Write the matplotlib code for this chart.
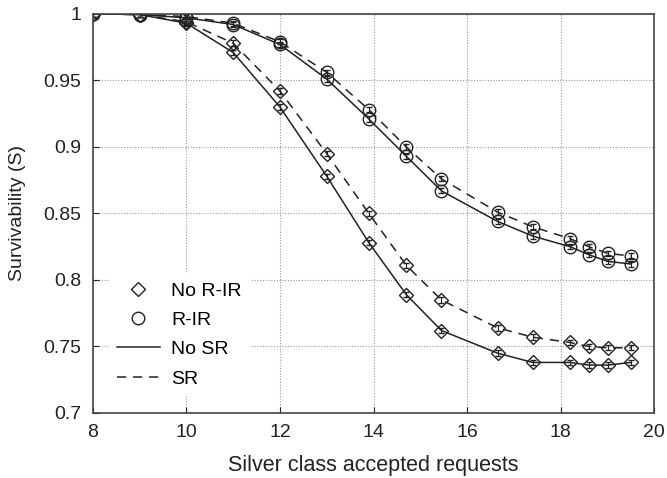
import numpy as np
import matplotlib.pyplot as plt
from matplotlib.lines import Line2D

plt.rcParams["font.family"] = ["Liberation Sans", "DejaVu Sans"]

requests = [8, 9, 10, 11, 12, 13, 13.9, 14.7, 15.45, 16.65, 17.4, 18.2, 18.6, 19, 19.5]

no_rir_no_sr = [1.0, 0.9995, 0.993, 0.971, 0.930, 0.878, 0.828, 0.789, 0.762,
                0.745, 0.738, 0.738, 0.736, 0.736, 0.738]
no_rir_sr = [1.0, 0.9995, 0.994, 0.978, 0.942, 0.895, 0.850, 0.811, 0.785,
             0.764, 0.757, 0.753, 0.750, 0.749, 0.749]
rir_no_sr = [1.0, 0.9995, 0.997, 0.992, 0.977, 0.951, 0.921, 0.893, 0.867,
             0.844, 0.833, 0.825, 0.819, 0.814, 0.812]
rir_sr = [1.0, 0.9995, 0.998, 0.993, 0.979, 0.956, 0.928, 0.900, 0.876,
          0.851, 0.840, 0.831, 0.825, 0.820, 0.818]

err = 0.002

col = "#222222"
dash = (0, (6, 4.5))
fs = 14

fig = plt.figure(figsize=(6.67, 4.78), dpi=100)
ax = fig.add_axes([0.139, 0.136, 0.842, 0.835])

series = [
    (no_rir_no_sr, "D", "-", 7),
    (no_rir_sr, "D", dash, 7),
    (rir_no_sr, "o", "-", 9),
    (rir_sr, "o", dash, 9),
]
for vals, mk, ls, ms in series:
    ax.errorbar(requests, vals, yerr=err, color=col, lw=1.1, ls=ls,
                marker=mk, ms=ms, mfc="none", mec=col, mew=1.0,
                ecolor=col, elinewidth=0.8, capsize=2.5)

ax.set_xlim(8, 20)
ax.set_ylim(0.7, 1.0)
ax.set_xticks(np.arange(8, 21, 2))
ax.set_yticks([0.7, 0.75, 0.8, 0.85, 0.9, 0.95, 1.0])
ax.set_yticklabels(["0.7", "0.75", "0.8", "0.85", "0.9", "0.95", "1"])
ax.grid(True, ls=(0, (1, 1.5)), color="#999999", lw=0.8)
ax.tick_params(direction="in", labelsize=fs, colors="#222222", length=4, pad=8)
for s in ax.spines.values():
    s.set_color("#444444")
    s.set_linewidth(1.2)

ax.set_xlabel("Silver class accepted requests", fontsize=15.5, color="#222222")
ax.set_ylabel("Survivability (S)", fontsize=fs, color="#222222")
ax.xaxis.set_label_coords(0.5, -0.105)
ax.yaxis.set_label_coords(-0.118, 0.5)

handles = [
    Line2D([], [], ls="none", marker="D", ms=7, mfc="none", mec=col),
    Line2D([], [], ls="none", marker="o", ms=9, mfc="none", mec=col),
    Line2D([], [], color=col, lw=1.1),
    Line2D([], [], color=col, lw=1.1, ls=dash),
]
leg = ax.legend(handles, ["No R-IR", "R-IR", "No SR", "SR"], loc="lower left",
                bbox_to_anchor=(0.012, 0.02), frameon=True, fontsize=fs,
                handlelength=2.2, handletextpad=0.6, labelspacing=0.6,
                borderpad=0.4)
leg.get_frame().set_edgecolor("white")
leg.get_frame().set_facecolor("white")
leg.get_frame().set_alpha(1.0)

fig.savefig("out.png", dpi=100)
